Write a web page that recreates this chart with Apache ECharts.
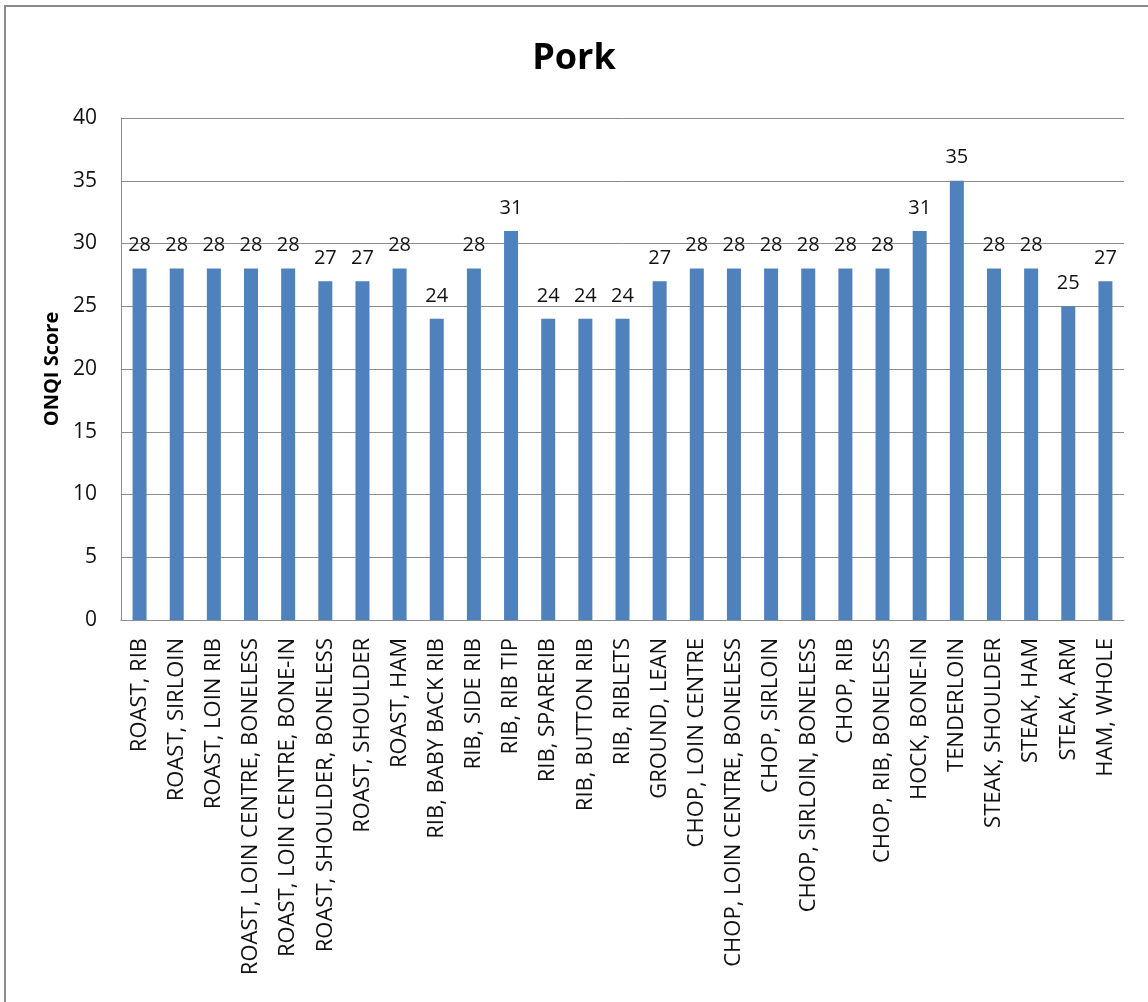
<!DOCTYPE html>
<html>
<head>
<meta charset="utf-8">
<script src="https://cdn.jsdelivr.net/npm/echarts@6/dist/echarts.min.js"></script>
<style>
  html, body { margin: 0; padding: 0; background: #fff; }
  #chart { width: 1148px; height: 1002px; }
</style>
</head>
<body>
<div id="chart"></div>
<script>
// Pork cuts and their ONQI scores
const cuts = [
  'ROAST, RIB', 'ROAST, SIRLOIN', 'ROAST, LOIN RIB', 'ROAST, LOIN CENTRE, BONELESS',
  'ROAST, LOIN CENTRE, BONE-IN', 'ROAST, SHOULDER, BONELESS', 'ROAST, SHOULDER', 'ROAST, HAM',
  'RIB, BABY BACK RIB', 'RIB, SIDE RIB', 'RIB, RIB TIP', 'RIB, SPARERIB', 'RIB, BUTTON RIB',
  'RIB, RIBLETS', 'GROUND, LEAN', 'CHOP, LOIN CENTRE', 'CHOP, LOIN CENTRE, BONELESS',
  'CHOP, SIRLOIN', 'CHOP, SIRLOIN, BONELESS', 'CHOP, RIB', 'CHOP, RIB, BONELESS',
  'HOCK, BONE-IN', 'TENDERLOIN', 'STEAK, SHOULDER', 'STEAK, HAM', 'STEAK, ARM', 'HAM, WHOLE'
];
const onqiScores = [28, 28, 28, 28, 28, 27, 27, 28, 24, 28, 31, 24, 24, 24, 27, 28, 28, 28, 28, 28, 28, 31, 35, 28, 28, 25, 27];
const yTicks = { min: 0, max: 40, interval: 5 };

const chart = echarts.init(document.getElementById('chart'));
const font = '"Open Sans", "Liberation Sans", sans-serif';

chart.setOption({
  animation: false,
  textStyle: { fontFamily: font },
  graphic: [{
    type: 'rect',
    shape: { x: 5, y: 6, width: 1200, height: 1100 },
    style: { fill: 'none', stroke: '#8a8a8a', lineWidth: 2 },
    silent: true
  }],
  title: {
    text: 'Pork',
    left: 'center',
    top: 36,
    textStyle: { fontFamily: font, fontSize: 36, fontWeight: 'bold', color: '#000' }
  },
  grid: { left: 121, right: 24, top: 118, bottom: 382, containLabel: false },
  xAxis: {
    type: 'category',
    data: cuts,
    axisLine: { show: true, lineStyle: { color: '#8c8c8c', width: 1 } },
    axisTick: { show: false },
    axisLabel: {
      rotate: 90,
      interval: 0,
      margin: 18,
      fontSize: 22,
      color: '#111',
      fontFamily: font
    }
  },
  yAxis: {
    type: 'value',
    min: yTicks.min,
    max: yTicks.max,
    interval: yTicks.interval,
    name: 'ONQI Score',
    nameLocation: 'middle',
    nameGap: 58,
    nameTextStyle: { fontFamily: font, fontSize: 20, fontWeight: 'bold', color: '#000' },
    axisLine: { show: true, lineStyle: { color: '#8c8c8c', width: 1 } },
    axisTick: { show: false },
    axisLabel: { margin: 24, fontSize: 21, color: '#111', fontFamily: font },
    splitLine: { show: true, lineStyle: { color: '#8c8c8c', width: 1 } }
  },
  series: [{
    type: 'bar',
    data: onqiScores,
    barWidth: 14,
    itemStyle: { color: '#4f81bd' },
    label: {
      show: true,
      position: 'top',
      distance: 13,
      fontSize: 20,
      color: '#111',
      fontFamily: font
    }
  }]
});
</script>
</body>
</html>
